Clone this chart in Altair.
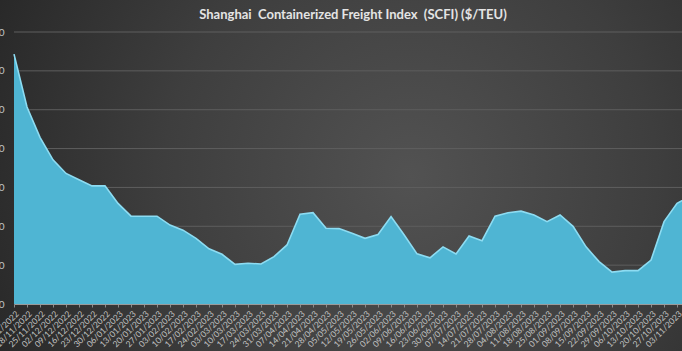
import altair as alt
import pandas as pd

dates = ["11/11/2022","18/11/2022","25/11/2022","02/12/2022","09/12/2022","16/12/2022",
         "23/12/2022","30/12/2022","06/01/2023","13/01/2023","20/01/2023","27/01/2023",
         "03/02/2023","10/02/2023","17/02/2023","24/02/2023","03/03/2023","10/03/2023",
         "17/03/2023","24/03/2023","31/03/2023","07/04/2023","14/04/2023","21/04/2023",
         "28/04/2023","05/05/2023","12/05/2023","19/05/2023","26/05/2023","02/06/2023",
         "09/06/2023","16/06/2023","23/06/2023","30/06/2023","07/07/2023","14/07/2023",
         "21/07/2023","28/07/2023","04/08/2023","11/08/2023","18/08/2023","25/08/2023",
         "01/09/2023","08/09/2023","15/09/2023","22/09/2023","29/09/2023","06/10/2023",
         "13/10/2023","20/10/2023","27/10/2023","03/11/2023","10/11/2023"]

scfi = [1443,1307,1229,1171,1136,1120,1104,1104,1059,1026,1026,1026,1003,990,969,942,
        928,902,905,903,922,952,1031,1035,995,994,982,969,979,1025,978,929,919,947,929,
        975,963,1026,1035,1039,1029,1012,1029,1000,947,909,882,886,886,913,1012,1059,1078]

y_ticks = [800, 900, 1000, 1100, 1200, 1300, 1400, 1500]

df = pd.DataFrame({"idx": list(range(len(dates))), "date": dates, "scfi": scfi})
grid_df = pd.DataFrame({"scfi": y_ticks})

label_expr = "[" + ",".join("'%s'" % d for d in dates) + "][datum.value]"

x_scale = alt.Scale(domain=[0, 51.38], nice=False, zero=False)
y_scale = alt.Scale(domain=[800, 1500], nice=False, zero=False)

x_axis = alt.Axis(values=list(range(len(dates))), labelExpr=label_expr,
                  title=None, grid=False, labelAngle=-45, labelFontSize=8.5,
                  labelFont="Lato", labelColor="#c4c4c4", labelOverlap=False,
                  labelBound=False, labelFlush=False,
                  tickSize=3, tickColor="#8a8a8a", domainColor="#9a9a9a",
                  labelPadding=2, zindex=1)
y_axis = alt.Axis(values=y_ticks, title=None, grid=False, ticks=False,
                  domain=False, labelPadding=10, labelFontSize=10,
                  labelOverlap=False, labelBound=False, labelFlush=False,
                  labelFont="Lato", labelColor="#c4c4c4", zindex=1)

x_enc = alt.X("idx:Q", scale=x_scale, axis=x_axis)
y_enc = alt.Y("scfi:Q", scale=y_scale, axis=y_axis)

bg = alt.Chart(alt.Data(values=[{}])).mark_rect(
    fill=alt.Gradient(gradient="radial", x1=0.6, y1=0.5, r1=0.0,
                      x2=0.6, y2=0.5, r2=0.72,
                      stops=[alt.GradientStop(color="#525252", offset=0),
                             alt.GradientStop(color="#3e3e3e", offset=0.5),
                             alt.GradientStop(color="#242424", offset=1)])
).encode(x=alt.value(-14), x2=alt.value(670), y=alt.value(-32), y2=alt.value(320))

grid = alt.Chart(grid_df).mark_rule(color="#5e5e5e", strokeWidth=1).encode(y=y_enc)

area = alt.Chart(df).mark_area(color="#4fb5d3", opacity=1).encode(
    x=x_enc, y=y_enc, y2=alt.datum(800))

line = alt.Chart(df).mark_line(color="#8ddcf2", strokeWidth=1.6).encode(x=x_enc, y=y_enc)

title_text = "Shanghai\u00a0\u00a0Containerized Freight Index\u00a0\u00a0(SCFI) ($/TEU)"

chart = alt.layer(bg, grid, area, line).properties(
    width=668, height=272,
    padding={"left": 14, "top": 32, "right": 0, "bottom": 47},
    autosize=alt.AutoSizeParams(type="none"),
    title=alt.TitleParams(title_text,
                          font="Lato", fontSize=13, fontWeight="bold",
                          color="#e4e4e4", offset=-22, dx=5, anchor="middle"),
    background="#2a2a2a"
).configure_view(stroke=None)

chart.save("out.html", embed_options={"renderer": "svg", "actions": False})
